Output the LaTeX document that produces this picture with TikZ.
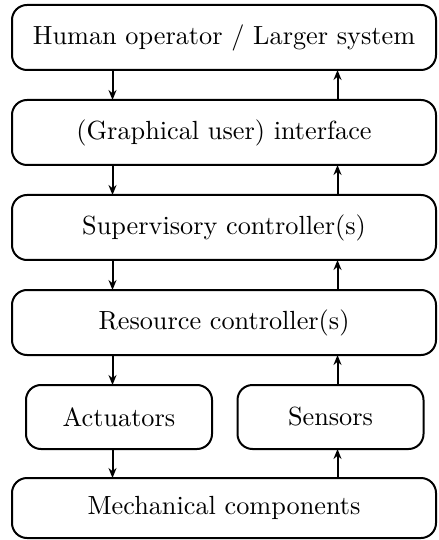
\documentclass[tikz,border=0pt]{standalone}
\usetikzlibrary{positioning,arrows.meta}

\tikzset{
  widebox/.style={draw, thick, rounded corners=6pt, minimum width=169.6pt, minimum height=26pt,
    inner sep=0pt, outer sep=0pt, font=\fontsize{10.5}{12}\selectfont},
  smallbox/.style={widebox, minimum width=74.4pt, minimum height=25.6pt},
  flow/.style={thick, -{Stealth[length=4pt,width=3.2pt]}}
}

\begin{document}
\begin{tikzpicture}[node distance=12pt]
  \useasboundingbox (0,0) rectangle (175.6pt,-216pt);

  \node[widebox] (hmi) at (89.6pt,-15pt) {Human operator / Larger system};
  \node[widebox, below=of hmi] (gui) {(Graphical user) interface};
  \node[widebox, below=of gui] (sup) {Supervisory controller(s)};
  \node[widebox, below=of sup] (res) {Resource controller(s)};
  \node[smallbox, below right=12pt and 5.6pt of res.south west] (act) {Actuators};
  \node[smallbox, below left=12pt and 5pt of res.south east] (sen) {Sensors};
  \node[widebox, minimum height=24pt, below=49.2pt of res] (mech) {Mechanical components};

  % commands going down, feedback going up
  \draw[flow] ([xshift=-44.6pt]hmi.south) -- ([xshift=-44.6pt]gui.north);
  \draw[flow] ([xshift=45.4pt]gui.north) -- ([xshift=45.4pt]hmi.south);
  \draw[flow] ([xshift=-44.6pt]gui.south) -- ([xshift=-44.6pt]sup.north);
  \draw[flow] ([xshift=45.4pt]sup.north) -- ([xshift=45.4pt]gui.south);
  \draw[flow] ([xshift=-44.6pt]sup.south) -- ([xshift=-44.6pt]res.north);
  \draw[flow] ([xshift=45.4pt]res.north) -- ([xshift=45.4pt]sup.south);
  \draw[flow] ([xshift=-44.6pt]res.south) -- ([xshift=-44.6pt]res.south |- act.north);
  \draw[flow] ([xshift=45.4pt]res.south |- sen.north) -- ([xshift=45.4pt]res.south);
  \draw[flow] ([xshift=-44.6pt]mech.north |- act.south) -- ([xshift=-44.6pt]mech.north);
  \draw[flow] ([xshift=45.4pt]mech.north) -- ([xshift=45.4pt]mech.north |- sen.south);
\end{tikzpicture}
\end{document}
